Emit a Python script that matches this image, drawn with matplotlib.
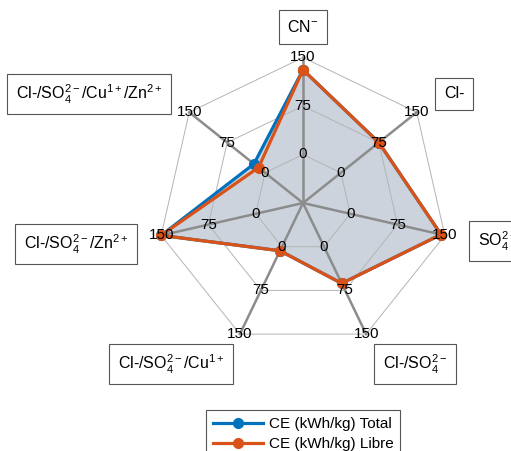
import numpy as np
import matplotlib.pyplot as plt

plt.rcParams['font.family'] = ['Liberation Sans', 'DejaVu Sans']
plt.rcParams['mathtext.fontset'] = 'custom'
plt.rcParams['mathtext.rm'] = 'Liberation Sans'
plt.rcParams['mathtext.it'] = 'Liberation Sans'
plt.rcParams['mathtext.default'] = 'regular'

# datos
ejes = ['CN$^{-}$', 'Cl-', 'SO$_4^{2-}$', 'Cl-/SO$_4^{2-}$',
        'Cl-/SO$_4^{2-}$/Cu$^{1+}$', 'Cl-/SO$_4^{2-}$/Zn$^{2+}$',
        'Cl-/SO$_4^{2-}$/Cu$^{1+}$/Zn$^{2+}$']
ce_total = [131, 75, 144, 63, 7, 150, 22]
ce_libre = [131, 75, 144, 63, 7, 150, 13]
series = ['CE (kWh/kg) Total', 'CE (kWh/kg) Libre']
ticks = [0, 75, 150]

azul = '#0072BD'
naranja = '#D95319'

# geometria (pixeles de la figura)
cx, cy = 303, 203
U = 48.5   # px por anillo
W, H = 511, 451

n = len(ejes)
ang = np.pi/2 - 2*np.pi*np.arange(n)/n

def radio(v):
    return 1 + np.asarray(v, dtype=float)/75

fig = plt.figure(figsize=(W/100, H/100), dpi=100)
ax = fig.add_axes([0, 0, 1, 1])
ax.set_xlim(-cx/U, (W-cx)/U)
ax.set_ylim(-(H-cy)/U, cy/U)
ax.axis('off')

# relleno
for vals in (ce_total, ce_libre):
    r = radio(vals)
    ax.fill(r*np.cos(ang), r*np.sin(ang), color='#ccd3dd', zorder=1, lw=0)

# telarana
for t in ticks:
    r = radio(t)
    xs = np.append(r*np.cos(ang), r*np.cos(ang[0]))
    ys = np.append(r*np.sin(ang), r*np.sin(ang[0]))
    ax.plot(xs, ys, color='#b4b4b4', lw=0.7, zorder=2)
for a in ang:
    ax.plot([0, 3*np.cos(a)], [0, 3*np.sin(a)], color='#8c8c8c', lw=1.8, zorder=2)

# series
for vals, col, lab in zip((ce_total, ce_libre), (azul, naranja), series):
    r = radio(vals)
    xs = np.append(r*np.cos(ang), r[0]*np.cos(ang[0]))
    ys = np.append(r*np.sin(ang), r[0]*np.sin(ang[0]))
    ax.plot(xs, ys, color=col, lw=2.3, marker='o', ms=7, label=lab, zorder=3)

# etiquetas de los ejes
for a in ang:
    for t in ticks:
        r = radio(t)
        ax.text(r*np.cos(a), r*np.sin(a), str(t), ha='center', va='center',
                fontsize=11, color='black', zorder=5)

# cajas con nombres
pos_cajas = [(303, 27, 'center'), (444, 94, 'left'), (478, 241, 'left'),
             (383, 364, 'left'), (224, 364, 'right'), (128, 244, 'right'),
             (162, 94, 'right')]
for txt, (px, py, ha) in zip(ejes, pos_cajas):
    ax.text((px-cx)/U, (cy-py)/U, txt, ha=ha, va='center', fontsize=11.5, zorder=6,
            bbox=dict(boxstyle='square,pad=0.55', fc='white', ec='#555555', lw=0.8))

leg = ax.legend(loc='upper center', bbox_to_anchor=(303/W, 1-410/H),
                bbox_transform=fig.transFigure, fontsize=11, handlelength=3.3,
                handletextpad=0.35, labelspacing=0.4, borderpad=0.45,
                borderaxespad=0, fancybox=False, framealpha=1,
                edgecolor='#555555')
leg.get_frame().set_linewidth(0.8)

fig.savefig('out.png', dpi=100)
